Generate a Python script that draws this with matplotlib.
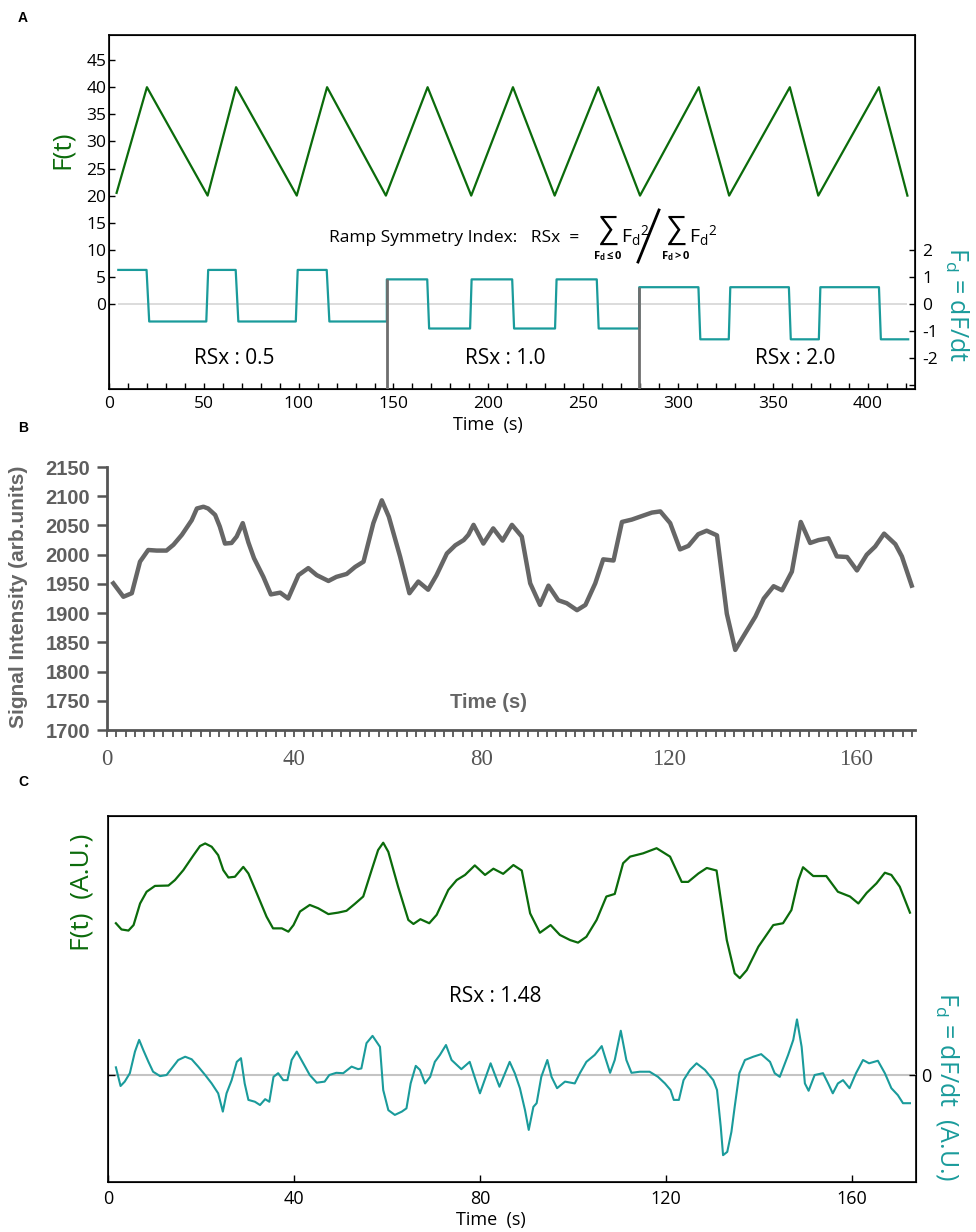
import matplotlib
matplotlib.use('Agg')
import matplotlib.pyplot as plt
from matplotlib.lines import Line2D

# 字体设置
plt.rcParams['font.family'] = ['Open Sans', 'DejaVu Sans']
plt.rcParams['mathtext.fontset'] = 'custom'
plt.rcParams['mathtext.rm'] = 'Open Sans'
plt.rcParams['mathtext.it'] = 'Open Sans'
plt.rcParams['mathtext.bf'] = 'Open Sans:bold'
plt.rcParams['axes.unicode_minus'] = False

GREEN = '#0b6b0b'
TEAL = '#1a9b9b'
GRAY_B = '#666666'

# ---------------- data ----------------
# panel A: ramp signal F(t) and its derivative
a_t = [4, 20, 52, 67, 99, 115, 146, 168, 191, 213, 235, 258, 280, 311, 327, 359, 374, 406, 421]
a_f = [20.5, 40, 20, 40, 20, 40, 20, 40, 20, 40, 20, 40, 20, 40, 20, 40, 20, 40, 20]
a_fd_t = [4.9, 19.8, 21.2, 51.3, 52.3, 66.8, 68.2, 98.5, 99.5, 114.8, 116.2, 146.5,
          146.5, 167.8, 168.8, 190.4, 191.2, 212.6, 213.6, 235.2, 236.0, 257.2, 258.2, 279.6,
          279.6, 310.8, 311.8, 326.8, 327.6, 358.5, 359.5, 374.3, 375.1, 406.0, 407.0, 421.4]
a_fd = [1.26, 1.26, -0.65, -0.65, 1.26, 1.26, -0.65, -0.65, 1.26, 1.26, -0.65, -0.65,
        0.91, 0.91, -0.91, -0.91, 0.91, 0.91, -0.91, -0.91, 0.91, 0.91, -0.91, -0.91,
        0.62, 0.62, -1.31, -1.31, 0.62, 0.62, -1.31, -1.31, 0.62, 0.62, -1.31, -1.31]
sep_t = [146.5, 279.6]
sep_top = [0.91, 0.62]
rsx_labels = ['RSx : 0.5', 'RSx : 1.0', 'RSx : 2.0']
rsx_x = [66, 209, 362]

# panel B: measured signal intensity
b_t = [1.35, 3.5, 5.3, 7.05, 8.8, 10.6, 12.7, 14.2, 16.0, 18.1,
       19.2, 20.6, 21.6, 23.1, 24.1, 25.2, 26.6, 27.7, 29.0, 30.2,
       31.4, 33.4, 35.0, 37.0, 38.7, 40.9, 43.0, 44.8, 47.3, 49.0,
       51.2, 53.0, 54.8, 56.9, 58.7, 60.2, 62.6, 64.6, 66.5, 68.6,
       70.4, 72.6, 74.4, 76.2, 77.2, 78.3, 80.4, 82.5, 84.5, 86.5,
       88.6, 90.4, 92.5, 94.3, 96.4, 98.2, 100.4, 102.2, 104.3, 106.0,
       108.2, 110.0, 112.1, 114.6, 116.4, 118.2, 120.3, 122.4, 124.2, 126.3,
       128.1, 130.3, 132.4, 134.2, 136.3, 138.5, 140.3, 142.4, 144.2, 146.3,
       148.2, 150.2, 152.0, 154.1, 155.9, 158.1, 160.2, 162.3, 164.1, 166.0,
       168.4, 169.8, 171.9]
b_v = [1951, 1928, 1934, 1988, 2008, 2007, 2007, 2017, 2034, 2059,
       2079, 2082, 2079, 2068, 2048, 2019, 2020, 2031, 2054, 2021,
       1994, 1962, 1932, 1935, 1925, 1965, 1977, 1965, 1955, 1962,
       1967, 1979, 1988, 2054, 2093, 2065, 1997, 1934, 1954, 1940,
       1965, 2002, 2016, 2025, 2034, 2051, 2019, 2045, 2024, 2051,
       2031, 1951, 1914, 1947, 1922, 1917, 1905, 1914, 1951, 1992,
       1990, 2056, 2060, 2067, 2072, 2074, 2054, 2009, 2015, 2035,
       2041, 2033, 1899, 1837, 1865, 1894, 1925, 1946, 1939, 1971,
       2056, 2020, 2025, 2028, 1997, 1996, 1973, 2000, 2014, 2036,
       2018, 1997, 1947]

# panel C: smoothed F(t) (A.U.) and derivative Fd (A.U.)
c_tf = [1.7, 2.9, 4.4, 5.5, 6.9, 8.3, 10.1, 13.0, 14.4, 16.2,
        18.4, 19.8, 20.9, 22.3, 23.7, 24.8, 25.9, 27.3, 29.1, 30.2,
        32.0, 34.1, 35.5, 37.4, 38.8, 39.9, 41.3, 43.4, 45.2, 47.4,
        49.5, 51.3, 53.1, 54.9, 56.7, 58.1, 59.2, 60.3, 62.4, 64.6,
        65.7, 67.2, 69.1, 70.7, 73.2, 75.0, 76.8, 78.9, 81.1, 82.9,
        85.0, 87.2, 89.0, 90.8, 92.9, 95.2, 97.2, 99.4, 101.1, 102.9,
        105.1, 107.2, 109.0, 110.8, 112.3, 115.1, 118.0, 120.9, 123.4, 124.8,
        127.0, 128.8, 130.9, 133.1, 134.8, 135.9, 137.4, 139.9, 143.1, 145.2,
        147.0, 148.5, 149.5, 151.7, 154.5, 157.0, 159.6, 161.4, 163.2, 165.3,
        167.1, 168.5, 170.3, 172.5]
c_f = [70.7, 69.0, 68.7, 70.2, 76.1, 79.3, 80.9, 81.0, 82.5, 85.2,
       89.3, 91.8, 92.5, 91.6, 89.3, 85.2, 83.2, 83.4, 86.1, 84.3,
       78.9, 72.5, 69.3, 69.3, 68.4, 70.2, 73.9, 75.7, 74.8, 73.2,
       73.6, 74.1, 76.0, 78.0, 85.2, 90.7, 92.7, 90.2, 80.7, 71.6,
       70.5, 71.8, 70.7, 73.0, 79.8, 82.5, 83.9, 86.5, 83.9, 85.6,
       84.2, 86.6, 85.1, 73.4, 68.1, 70.2, 67.5, 66.1, 65.4, 67.0,
       71.6, 78.0, 78.7, 87.1, 88.9, 89.8, 91.2, 88.9, 82.0, 82.0,
       84.3, 85.8, 85.1, 66.1, 57.0, 55.7, 57.9, 64.3, 70.2, 70.7,
       74.3, 82.5, 86.0, 83.6, 83.6, 79.3, 78.0, 76.1, 79.0, 81.6,
       84.5, 83.9, 80.7, 73.6]
c_td = [1.7, 2.7, 3.6, 4.7, 5.8, 6.7, 7.6, 8.7, 9.7, 11.2,
        12.6, 13.7, 15.1, 16.6, 18.0, 19.4, 20.9, 22.3, 23.7, 24.7,
        25.5, 26.6, 27.7, 28.6, 29.4, 30.2, 31.6, 32.7, 33.8, 34.7,
        35.6, 36.6, 37.7, 38.6, 39.5, 40.6, 42.0, 43.4, 44.9, 46.6,
        47.6, 49.1, 50.6, 52.4, 53.8, 54.5, 55.6, 56.9, 58.5, 59.2,
        60.3, 61.7, 63.2, 64.2, 65.1, 66.2, 67.1, 68.2, 69.3, 70.3,
        71.4, 72.7, 73.9, 76.0, 77.8, 80.0, 82.3, 84.2, 86.4, 87.5,
        88.6, 89.7, 90.5, 91.5, 92.2, 93.2, 94.5, 95.4, 96.6, 98.3,
        100.4, 101.5, 102.9, 104.7, 106.2, 106.9, 108.0, 109.0, 110.3, 111.5,
        112.6, 114.4, 116.5, 118.3, 119.8, 121.0, 121.7, 122.8, 123.8, 125.2,
        126.6, 128.4, 130.2, 131.0, 131.8, 132.3, 133.2, 134.1, 134.8, 135.8,
        137.0, 138.8, 140.5, 142.4, 143.4, 144.5, 146.3, 147.4, 148.2, 149.2,
        149.9, 150.7, 152.0, 153.8, 154.9, 155.9, 157.0, 158.1, 159.5, 160.9,
        162.4, 163.7, 165.6, 167.1, 168.5, 169.9, 171.0, 172.5]
c_d = [0.21, -0.30, -0.18, 0.05, 0.64, 0.96, 0.68, 0.36, 0.09, -0.03,
       0.0, 0.18, 0.41, 0.50, 0.43, 0.23, 0.0, -0.23, -0.50, -1.00,
       -0.50, -0.14, 0.36, 0.46, -0.23, -0.68, -0.73, -0.82, -0.66, -0.73,
       -0.05, 0.05, -0.14, -0.14, 0.41, 0.64, 0.32, 0.0, -0.21, -0.18,
       0.0, 0.06, 0.05, 0.23, 0.16, 0.18, 0.87, 1.07, 0.77, -0.41,
       -0.96, -1.09, -1.00, -0.91, -0.23, 0.25, 0.14, -0.23, -0.05, 0.36,
       0.55, 0.82, 0.41, 0.16, 0.36, -0.50, 0.32, -0.32, 0.36, 0.05,
       -0.36, -0.96, -1.50, -0.87, -0.77, -0.05, 0.41, -0.05, -0.36, -0.18,
       -0.23, 0.05, 0.36, 0.55, 0.79, 0.50, 0.06, 0.41, 1.21, 0.41,
       0.06, 0.09, 0.09, -0.05, -0.23, -0.41, -0.68, -0.68, -0.14, 0.14,
       0.32, 0.14, -0.14, -0.41, -1.41, -2.19, -2.10, -1.55, -0.87, 0.05,
       0.41, 0.50, 0.57, 0.36, 0.05, -0.05, 0.55, 0.96, 1.52, 0.77,
       -0.23, -0.43, 0.0, 0.05, -0.23, -0.50, -0.23, -0.14, -0.36, 0.05,
       0.41, 0.32, 0.39, 0.05, -0.36, -0.55, -0.77, -0.77]

# ---------------- figure ----------------
W, H = 976, 1232
fig = plt.figure(figsize=(W / 100, H / 100), dpi=100)


def box(l, t, r, b):
    # 像素坐标 -> figure 坐标
    return [l / W, 1 - b / H, (r - l) / W, (b - t) / H]


def ftext(x, y, s, **kw):
    return fig.text(x / W, 1 - y / H, s, **kw)


# ======== panel A ========
ax = fig.add_axes(box(109, 35, 915, 389))
ax.plot(a_t, a_f, color=GREEN, lw=1.6, zorder=3)
ax.set_xlim(0, 425)
ax.set_ylim(-15.68, 49.63)
ax.set_xticks(range(0, 401, 50))
ax.set_xticks(range(0, 421, 10), minor=True)
ax.set_yticks(range(0, 46, 5))
ax.tick_params(which='both', direction='in', length=4, width=1, labelsize=12.5)
ax.tick_params(axis='x', pad=5)
ax.tick_params(axis='y', pad=2)
for s in ax.spines.values():
    s.set_linewidth(1.2)
for i, lab in enumerate(rsx_labels):
    ax.text(rsx_x[i], -10, lab, ha='center', va='center', fontsize=15)

ax2 = ax.twinx()
ax2.set_ylim(-3.15, 9.96)
ax2.hlines(0, 5, 421, color='#d6d6d6', lw=1.2, zorder=1)
ax2.plot(a_fd_t, a_fd, color=TEAL, lw=1.6, zorder=2)
ax2.vlines(sep_t, -3.15, sep_top, color='#6e6e6e', lw=2, zorder=4)
ax2.set_yticks([-3, -2, -1, 0, 1, 2])
ax2.set_yticklabels(['', '-2', '-1', '0', '1', '2'])
ax2.tick_params(direction='in', length=4, width=1, labelsize=12.5, pad=5)

ftext(23, 18, 'A', fontsize=10, weight='bold', family='Liberation Sans', ha='center', va='center')
ftext(62, 150, 'F(t)', fontsize=19, color=GREEN, rotation=90, ha='center', va='center')
ftext(957, 304, r'F$_\mathrm{d}$ = dF/dt', fontsize=18, color=TEAL, rotation=270,
      ha='center', va='center')
ftext(488, 425, 'Time  (s)', fontsize=13, ha='center', va='center')

# 公式: Ramp Symmetry Index (手动拼接求和符号)
ftext(329, 238, 'Ramp Symmetry Index:   RSx  = ', fontsize=12.5, ha='left', va='center')
for cx_sum, sub in [(608, r'$\mathbf{F_d\leq0}$'), (676, r'$\mathbf{F_d>0}$')]:
    ftext(cx_sum, 230, r'$\sum$', fontsize=22, ha='center', va='center')
    ftext(cx_sum + 13, 236, r'$\mathrm{F_d}^{2}$', fontsize=14, ha='left', va='center')
    ftext(cx_sum, 256, sub, fontsize=8, ha='center', va='center')
fig.add_artist(Line2D([638 / W, 659 / W], [1 - 262 / H, 1 - 210 / H], color='black', lw=2))

# ======== panel B ========
bx = fig.add_axes(box(107, 467, 915, 730))
bx.plot(b_t, b_v, color=GRAY_B, lw=3.2, solid_joinstyle='round')
bx.set_xlim(0, 172.6)
bx.set_ylim(1700, 2150)
bx.spines['top'].set_visible(False)
bx.spines['right'].set_visible(False)
for k in ['left', 'bottom']:
    bx.spines[k].set_color('#555555')
    bx.spines[k].set_linewidth(2)
bx.set_yticks(range(1700, 2151, 50))
bx.set_xticks(range(0, 161, 40))
bx.set_xticks(range(0, 173, 2), minor=True)
bx.tick_params(axis='y', direction='out', length=7, width=1.8, color='#555555', pad=5,
               labelsize=14.5, labelcolor='#5e5e5e')
bx.tick_params(axis='x', which='both', direction='out', length=5, width=1.3, color='#555555',
               pad=9, labelsize=16.5, labelcolor='#555555')
for lab in bx.get_yticklabels():
    lab.set_family('Liberation Sans')
    lab.set_weight('bold')
for lab in bx.get_xticklabels():
    lab.set_family('Liberation Serif')

ftext(23, 428, 'B', fontsize=10, weight='bold', family='Liberation Sans', ha='center', va='center')
ftext(19, 597, 'Signal Intensity (arb.units)', fontsize=15, weight='bold', color='#666666',
      family='Liberation Sans', rotation=90, ha='center', va='center')
ftext(488, 703, 'Time (s)', fontsize=14.5, weight='bold', color='#666666', family='Liberation Sans',
      ha='center', va='center')

# ======== panel C ========
cx = fig.add_axes(box(108, 816, 916, 1182))
cx.plot(c_tf, c_f, color=GREEN, lw=1.6, zorder=3)
cx.set_xlim(0, 173.8)
cx.set_ylim(0, 100)
cx.set_yticks([])
cx.set_xticks(range(0, 161, 40))
cx.tick_params(axis='x', direction='in', length=5, width=1, labelsize=13, pad=6)
for s in cx.spines.values():
    s.set_linewidth(1.2)
ftext(495, 997, 'RSx : 1.48', fontsize=15, ha='center', va='center')

cx2 = cx.twinx()
cx2.set_ylim(-2.923, 7.077)
cx2.axhline(0, color='#c4c4c4', lw=1.5, zorder=1)
cx2.plot(c_td, c_d, color=TEAL, lw=1.5, zorder=2)
cx2.set_yticks([0])
cx2.tick_params(direction='in', length=5, width=1, left=True, right=True,
                labelleft=False, labelright=True, labelsize=13, pad=4)

ftext(23, 782, 'C', fontsize=10, weight='bold', family='Liberation Sans', ha='center', va='center')
ftext(82, 892, 'F(t)  (A.U.)', fontsize=19, color=GREEN, rotation=90, ha='center', va='center')
ftext(948, 1087, r'F$_\mathrm{d}$ = dF/dt  (A.U.)', fontsize=18, color=TEAL, rotation=270,
      ha='center', va='center')
ftext(491, 1220, 'Time  (s)', fontsize=13, ha='center', va='center')

fig.savefig('out.png', dpi=100)
